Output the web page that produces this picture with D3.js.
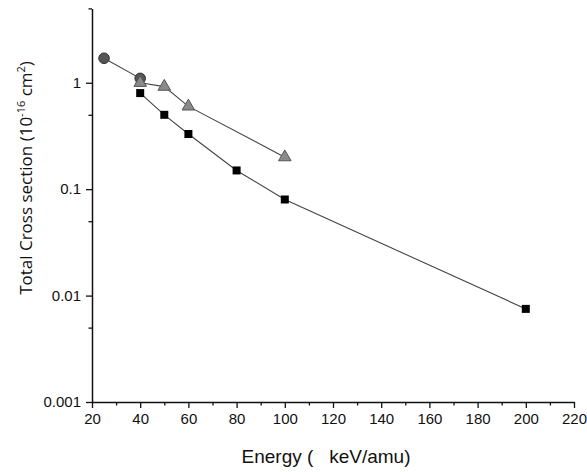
<!DOCTYPE html>
<html>
<head>
<meta charset="utf-8">
<script src="https://cdn.jsdelivr.net/npm/d3@7"></script>
<style>
  body { margin: 0; background: #fff; }
  svg { display: block; }
  .axis text { font-family: "Liberation Sans", Arial, sans-serif; font-size: 15px; fill: #111; }
</style>
</head>
<body>
<svg id="chart" width="587" height="472"></svg>
<script>
// data
const circleE = [25, 40];
const circleS = [1.7, 1.1];
const triE = [40, 50, 60, 100];
const triS = [1.0, 0.92, 0.6, 0.2];
const sqE = [40, 50, 60, 80, 100, 200];
const sqS = [0.8, 0.5, 0.33, 0.15, 0.08, 0.0075];

const xTicks = [20, 40, 60, 80, 100, 120, 140, 160, 180, 200, 220];
const xMinor = [30, 50, 70, 90, 110, 130, 150, 170, 190, 210];
const yTicks = [0.001, 0.01, 0.1, 1];
const yMinor = [0.005, 0.05, 0.5, 5];

const svg = d3.select("#chart");
const x = d3.scaleLinear().domain([20, 220]).range([92, 574]);
const y = d3.scaleLog().domain([0.001, 5]).range([402, 8.4]);

const toPts = (es, ss) => es.map((e, i) => ({ e: e, s: ss[i] }));
const circles = toPts(circleE, circleS);
const tris = toPts(triE, triS);
const squares = toPts(sqE, sqS);

// axes
svg.append("g").attr("class", "axis")
  .attr("transform", "translate(0,402)")
  .call(d3.axisBottom(x).tickValues(xTicks).tickSize(6).tickSizeOuter(0).tickPadding(5));
svg.append("g").attr("transform", "translate(0,402)")
  .call(d3.axisBottom(x).tickValues(xMinor).tickSize(3.5).tickFormat(""))
  .call(g => g.select(".domain").remove());

svg.append("g").attr("class", "axis")
  .attr("transform", "translate(92,0)")
  .call(d3.axisLeft(y).tickValues(yTicks).tickFormat(d3.format("~g")).tickSize(6).tickSizeOuter(0).tickPadding(5));
svg.append("g").attr("transform", "translate(92,0)")
  .call(d3.axisLeft(y).tickValues(yMinor).tickSize(3.5).tickFormat(""))
  .call(g => g.select(".domain").remove());

svg.selectAll(".domain").attr("stroke", "#111").attr("stroke-width", 1.5);
svg.selectAll(".tick line").attr("stroke", "#111").attr("stroke-width", 1.3);

// lines
const line = d3.line().x(d => x(d.e)).y(d => y(d.s));
[circles, tris, squares].forEach(pts => {
  svg.append("path").datum(pts)
    .attr("d", line)
    .attr("fill", "none")
    .attr("stroke", "#444")
    .attr("stroke-width", 1.1);
});

// markers
svg.selectAll(".sq").data(squares).enter().append("rect")
  .attr("x", d => x(d.e) - 4)
  .attr("y", d => y(d.s) - 4)
  .attr("width", 8).attr("height", 8)
  .attr("fill", "#000");

svg.selectAll(".ci").data(circles).enter().append("circle")
  .attr("cx", d => x(d.e)).attr("cy", d => y(d.s)).attr("r", 5.3)
  .attr("fill", "#555").attr("stroke", "#333").attr("stroke-width", 1);

const tri = d3.symbol().type(d3.symbolTriangle).size(68);
svg.selectAll(".tr").data(tris).enter().append("path")
  .attr("d", tri)
  .attr("transform", d => `translate(${x(d.e)},${y(d.s)})`)
  .attr("fill", "#8a8a8a").attr("stroke", "#555").attr("stroke-width", 1);

// titles
svg.append("text")
  .attr("x", 326).attr("y", 463)
  .attr("text-anchor", "middle")
  .style("font-family", "Liberation Sans, Arial, sans-serif")
  .style("font-size", "19px")
  .style("white-space", "pre")
  .attr("fill", "#111")
  .text("Energy (   keV/amu)");

const yt = svg.append("text")
  .attr("transform", "translate(32,178) rotate(-90)")
  .attr("text-anchor", "middle")
  .style("font-family", "Open Sans, sans-serif")
  .style("font-size", "17px")
  .style("white-space", "pre")
  .attr("fill", "#111");
yt.append("tspan").text("Total Cross section (10");
yt.append("tspan").attr("dy", -7).style("font-size", "11px").text("-16");
yt.append("tspan").attr("dy", 7).text(" cm");
yt.append("tspan").attr("dy", -7).style("font-size", "11px").text("2");
yt.append("tspan").attr("dy", 7).text(")");
</script>
</body>
</html>
